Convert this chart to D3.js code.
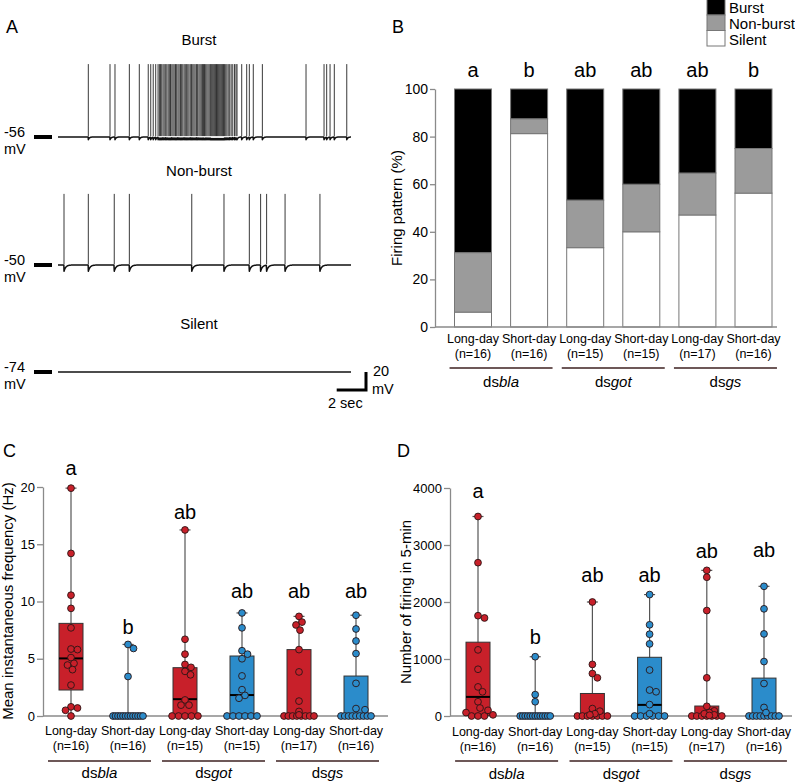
<!DOCTYPE html>
<html><head><meta charset="utf-8">
<script src="https://cdn.jsdelivr.net/npm/d3@7"></script>
<style>body{margin:0;background:#fff} svg{display:block;font-family:Arial,"Liberation Sans",sans-serif}</style>
</head><body><svg id="c" width="795" height="783"></svg>
<script>
// ================= DATA =================
// Panel A: spike times (s)
const burstSpikes = [2.07,3.55,3.89,4.87,5.55,6.16,6.33,6.5,6.67,
 6.83,6.92,7.0,7.08,7.17,7.25,7.35,7.43,7.52,7.6,7.68,7.77,7.85,7.93,8.02,8.1,8.19,8.27,8.36,8.44,8.52,8.61,8.69,8.78,8.86,8.94,9.03,9.11,9.2,9.28,9.36,9.45,9.53,9.62,9.7,9.78,9.86,9.93,
 10.0,10.08,10.16,10.24,10.32,10.4,10.46,10.52,10.58,10.64,10.7,10.76,10.82,10.88,10.94,11.0,11.06,11.12,11.18,11.24,11.3,11.37,11.45,11.53,11.62,11.72,11.82,11.93,12.05,12.15,12.22,
 12.54,12.88,13.06,13.33,13.95,16.93,18.16,18.34,18.57,18.86,19.71];
const nonburstSpikes = [0.41,2.07,3.84,4.87,9.13,11.33,13.06,13.83,14.24,15.5,17.88];
const silentSpikes = [];
const traceNames = ["Burst","Non-burst","Silent"];
const restPotentials = [-56,-50,-74];
const spikePeaks = [25,29,-74];

// Panel B
const conditions = ["Long-day","Short-day","Long-day","Short-day","Long-day","Short-day"];
const sampleN = [16,16,15,15,17,16];
const genotypes = ["bla","got","gs"];
const patternSilent = [6.25,81.25,33.33,40,47.06,56.25];
const patternNonburst = [25,6.25,20,20,17.65,18.75];
const patternBurst = [68.75,12.5,46.67,40,35.29,25];
const patternKeys = ["Burst","Non-burst","Silent"];
const lettersB = ["a","b","ab","ab","ab","b"];
const patternTicks = [0,20,40,60,80,100];

// Panel C: mean instantaneous frequency (Hz)
const freqLongBla = [19.9,14.2,10.55,9.4,7.7,5.85,5.8,5.1,4.6,4.45,4.05,2.7,0.8,0.7,0.5,0];
const freqShortBla = [6.25,5.9,3.45,0,0,0,0,0,0,0,0,0,0,0,0,0];
const freqLongGot = [16.25,6.7,5.4,4.5,4.25,3.9,3.6,1.4,0.95,0.95,0,0,0,0,0];
const freqShortGot = [9.0,7.7,5.7,5.4,5.0,3.5,2.3,1.8,1.55,0,0,0,0,0,0];
const freqLongGs = [8.7,8.2,7.95,7.5,5.8,3.85,1.3,0.4,0.1,0,0,0,0,0,0,0,0];
const freqShortGs = [8.8,7.6,6.55,5.45,2.85,0.65,0.55,0,0,0,0,0,0,0,0,0];
const freqQ1 = [2.27,0,0,0,0,0];
const freqMedian = [5.03,0,1.47,1.83,0,0];
const freqQ3 = [8.09,0,4.22,5.24,5.8,3.49];
const lettersC = ["a","b","ab","ab","ab","ab"];
const freqTicks = [0,5,10,15,20];

// Panel D: number of firing in 5-min
const countLongBla = [3500,2690,1760,1720,1160,820,510,425,250,140,100,60,20,0,0,0];
const countShortBla = [1040,375,250,0,0,0,0,0,0,0,0,0,0,0,0,0];
const countLongGot = [2000,905,745,670,130,85,40,20,0,0,0,0,0,0,0];
const countShortGot = [2130,1600,1435,1265,806,455,425,200,40,0,0,0,0,0,0];
const countLongGs = [2555,2435,1850,670,170,90,60,40,20,10,0,0,0,0,0,0,0];
const countShortGs = [2275,1880,1440,955,570,150,60,0,0,0,0,0,0,0,0,0];
const countQ1 = [10,0,0,0,0,0];
const countMedian = [335,0,0,195,0,0];
const countQ3 = [1295,0,395,1030,175,665];
const lettersD = ["a","b","ab","ab","ab","ab"];
const countTicks = [0,1000,2000,3000,4000];

// ================= DRAW =================
const svg = d3.select("#c");
svg.append("rect").attr("width",795).attr("height",783).attr("fill","#fff");
const RED = "#c8202a", BLUE = "#2b8ccb";
const groupColor = i => (i % 2 === 0 ? RED : BLUE);

function txt(x,y,s,size,anchor){
  return svg.append("text").attr("x",x).attr("y",y).attr("text-anchor",anchor||"start")
    .style("font-size",size+"px").attr("fill","#000").text(s);
}
// panel letters
[["A",6,33],["B",392,33],["C",3,457],["D",397,457]].forEach(d=>txt(d[1],d[2],d[0],18));

// ---------- Panel A ----------
const tScale = d3.scaleLinear().domain([0,20]).range([58,351]);
const traceBase = [137,265,372];
const titleY = [45,176,329];
const spikeSets = [burstSpikes, nonburstSpikes, silentSpikes];
const ahpDepth = [3,7,0], ahpTau = [0.07,0.12,0.1];
traceNames.forEach((name,i)=>{
  const rest = restPotentials[i];
  const yS = d3.scaleLinear().domain([rest, rest+20]).range([traceBase[i], traceBase[i]-18]);
  txt(199,titleY[i],name,15,"middle");
  const sp = spikeSets[i];
  const times = d3.sort(d3.range(0,20.0001,0.02).concat(sp));
  const pts = times.map(t=>{
    const k = d3.bisectRight(sp,t)-1;
    let v = rest;
    if(k>=0){ v = rest - ahpDepth[i]*Math.exp(-(t-sp[k])/ahpTau[i]); }
    return [tScale(t), yS(v)];
  });
  svg.append("path").attr("d",d3.line()(pts)).attr("fill","none")
    .attr("stroke","#111").attr("stroke-width",1.5).attr("stroke-linejoin","round");
  sp.forEach(t=>{
    svg.append("line").attr("x1",tScale(t)).attr("x2",tScale(t))
      .attr("y1",yS(rest+1)).attr("y2",yS(spikePeaks[i]))
      .attr("stroke","#222").attr("stroke-width",0.9);
  });
  txt(4,traceBase[i]-0.5,String(rest),14.5);
  txt(4,traceBase[i]+16.5,"mV",14.5);
  svg.append("rect").attr("x",34).attr("y",traceBase[i]-2).attr("width",18).attr("height",4).attr("fill","#000");
});
// scale bar
{
  const cx = 366, cy = 390;
  const secLen = tScale(2)-tScale(0);
  const yS = d3.scaleLinear().domain([0,20]).range([cy, cy-18]);
  svg.append("path").attr("d",`M${cx-secLen},${cy}H${cx}V${yS(20)}`)
    .attr("fill","none").attr("stroke","#000").attr("stroke-width",3);
  txt(373,376,"20",14.5); txt(372,394,"mV",14.5); txt(328,408,"2 sec",14.5);
}

// ---------- shared helpers ----------
function styleAxis(g,size){
  g.select(".domain").attr("stroke","#8a8a8a").attr("stroke-width",1.3);
  g.selectAll(".tick line").attr("stroke","#8a8a8a").attr("stroke-width",1.3);
  g.selectAll(".tick text").attr("fill","#000").style("font-size",size+"px")
    .style("font-family","Arial, 'Liberation Sans', sans-serif");
}
function xLabels(xs, y1, y2, yLine, yG){
  conditions.forEach((c,i)=>{
    txt(xs(i),y1,c,12.5,"middle");
    txt(xs(i),y2,"(n="+sampleN[i]+")",12.5,"middle");
  });
  genotypes.forEach((g,k)=>{
    const mid = (xs(2*k)+xs(2*k+1))/2;
    svg.append("line").attr("x1",mid-51.5).attr("x2",mid+51.5).attr("y1",yLine).attr("y2",yLine)
      .attr("stroke","#3d2020").attr("stroke-width",1.6);
    const t = txt(mid,yG,"",15,"middle");
    t.append("tspan").text("ds");
    t.append("tspan").style("font-style","italic").text(g);
  });
}
function yLabel(x,y,s){
  svg.append("text").attr("transform",`translate(${x},${y}) rotate(-90)`)
    .attr("text-anchor","middle").style("font-size","15px").text(s);
}

// ---------- Panel B ----------
{
  const xB = d3.scalePoint().domain(d3.range(6)).range([473,753.5]);
  const yB = d3.scaleLinear().domain([0,100]).range([327,89]);
  const barW = 37;
  const rows = conditions.map((c,i)=>({"Silent":patternSilent[i],"Non-burst":patternNonburst[i],"Burst":patternBurst[i]}));
  const stack = d3.stack().keys(["Silent","Non-burst","Burst"])(rows);
  const fills = {"Silent":"#ffffff","Non-burst":"#9b9b9b","Burst":"#000000"};
  stack.forEach(layer=>{
    layer.forEach((d,i)=>{
      svg.append("rect").attr("x",xB(i)-barW/2).attr("y",yB(d[1]))
        .attr("width",barW).attr("height",yB(d[0])-yB(d[1]))
        .attr("fill",fills[layer.key]).attr("stroke","#777").attr("stroke-width",1);
    });
  });
  const ax = svg.append("g").attr("transform","translate(435,0)")
    .call(d3.axisLeft(yB).tickValues(patternTicks).tickSize(5).tickSizeOuter(0).tickPadding(2));
  styleAxis(ax,14);
  svg.append("line").attr("x1",435).attr("x2",777).attr("y1",327).attr("y2",327)
    .attr("stroke","#8a8a8a").attr("stroke-width",1.3);
  lettersB.forEach((l,i)=>txt(xB(i),77,l,20,"middle"));
  xLabels(xB,343,358,368,387);
  yLabel(402,208,"Firing pattern (%)");
  // legend
  const legY = [-1,15,30.5];
  const legH = [16,15.5,15.5];
  patternKeys.forEach((k,j)=>{
    svg.append("rect").attr("x",707).attr("y",legY[j]).attr("width",18).attr("height",legH[j])
      .attr("fill",fills[k]).attr("stroke","#777").attr("stroke-width",1);
    txt(729,[12.5,28.5,45][j],k,15);
  });
}

// ---------- Box plots (C & D) ----------
function boxPanel(opts){
  const {xs, ys, axisX, axisEnd, ticks, groups, q1, med, q3, letters, letterY, boxW} = opts;
  const ax = svg.append("g").attr("transform",`translate(${axisX},0)`)
    .call(d3.axisLeft(ys).tickValues(ticks).tickFormat(d3.format("d")).tickSize(6).tickSizeOuter(0).tickPadding(2));
  styleAxis(ax,13);
  svg.append("line").attr("x1",axisX).attr("x2",axisEnd).attr("y1",ys(0)).attr("y2",ys(0))
    .attr("stroke","#8a8a8a").attr("stroke-width",1.3);
  groups.forEach((vals,i)=>{
    const cx = xs(i), col = groupColor(i);
    const mx = d3.max(vals), mn = d3.min(vals);
    svg.append("line").attr("x1",cx).attr("x2",cx).attr("y1",ys(mn)).attr("y2",ys(mx))
      .attr("stroke","#555").attr("stroke-width",1.2);
    svg.append("line").attr("x1",cx-5.5).attr("x2",cx+5.5).attr("y1",ys(mx)).attr("y2",ys(mx))
      .attr("stroke","#555").attr("stroke-width",1.2);
    if(q3[i]>q1[i]){
      svg.append("rect").attr("x",cx-boxW/2).attr("y",ys(q3[i])).attr("width",boxW)
        .attr("height",ys(q1[i])-ys(q3[i])).attr("fill",col).attr("stroke","#333").attr("stroke-width",1);
    }
    if(med[i]>0){
      svg.append("line").attr("x1",cx-boxW/2).attr("x2",cx+boxW/2).attr("y1",ys(med[i])).attr("y2",ys(med[i]))
        .attr("stroke","#000").attr("stroke-width",2);
    }
    swarm(vals,ys,cx,3.4,15).forEach(p=>{
      svg.append("circle").attr("cx",p.x).attr("cy",p.y).attr("r",3.4)
        .attr("fill",col).attr("stroke","#2a1515").attr("stroke-width",0.9);
    });
    txt(cx,letterY[i],letters[i],20,"middle");
  });
}
function swarm(vals, ys, cx, r, maxHalf){
  const d = 2*r*0.95;
  const out = [];
  const nZero = vals.filter(v=>v===0).length;
  if(nZero>0){
    const sp = nZero>1 ? Math.min(d, 2*maxHalf/(nZero-1)) : 0;
    for(let i=0;i<nZero;i++) out.push({x:cx+(i-(nZero-1)/2)*sp, y:ys(0)});
  }
  const nz = vals.filter(v=>v!==0).sort((a,b)=>b-a);
  const cands=[0]; for(let s=0.5;s<=maxHalf+1e-9;s+=0.5){cands.push(s,-s);}
  nz.forEach(v=>{
    const y = ys(v); let best=0, bestD=-1;
    for(const o of cands){
      let m = Infinity;
      for(const p of out){ const dd = Math.hypot(p.x-(cx+o), p.y-y); if(dd<m) m=dd; }
      if(m>=d){ best=o; bestD=m; break; }
      if(m>bestD){ bestD=m; best=o; }
    }
    out.push({x:cx+best, y});
  });
  return out;
}

// Panel C
{
  const xs = d3.scalePoint().domain(d3.range(6)).range([71,356]);
  const ys = d3.scaleLinear().domain([0,20]).range([716,487]);
  boxPanel({xs, ys, axisX:43, axisEnd:388, ticks:freqTicks,
    groups:[freqLongBla,freqShortBla,freqLongGot,freqShortGot,freqLongGs,freqShortGs],
    q1:freqQ1, med:freqMedian, q3:freqQ3, letters:lettersC,
    letterY:[475,634,519,598,598,598], boxW:24});
  xLabels(xs,735,750,761,778);
  yLabel(13,601,"Mean instantaneous frequency (Hz)");
}
// Panel D
{
  const xs = d3.scalePoint().domain(d3.range(6)).range([478,764]);
  const ys = d3.scaleLinear().domain([0,4000]).range([716,488]);
  boxPanel({xs, ys, axisX:450, axisEnd:792, ticks:countTicks,
    groups:[countLongBla,countShortBla,countLongGot,countShortGot,countLongGs,countShortGs],
    q1:countQ1, med:countMedian, q3:countQ3, letters:lettersD,
    letterY:[498,644,582,582,558,557], boxW:24});
  xLabels(xs,736,751,761,779);
  yLabel(411,602,"Number of firing in 5-min");
}
</script></body></html>
